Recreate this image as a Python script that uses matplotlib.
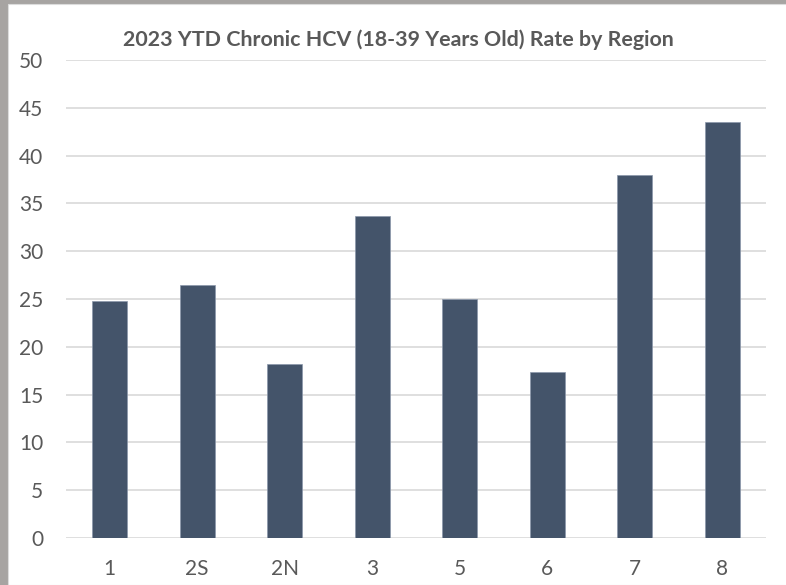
import matplotlib
matplotlib.use("Agg")
import matplotlib.pyplot as plt
from matplotlib.patches import Rectangle

regions = ["1", "2S", "2N", "3", "5", "6", "7", "8"]
rates = [24.75, 26.5, 18.25, 33.7, 25.05, 17.4, 37.95, 43.55]
y_ticks = [0, 5, 10, 15, 20, 25, 30, 35, 40, 45, 50]
title = "2023 YTD Chronic HCV (18-39 Years Old) Rate by Region"

plt.rcParams["font.family"] = ["Lato", "DejaVu Sans"]

fig = plt.figure(figsize=(7.86, 5.85), dpi=100)
fig.patch.set_facecolor("#a7a4a2")
# white chart area inside the grey frame
fig.patches.append(Rectangle((8 / 786, 0), 1, 1 - 4 / 585, transform=fig.transFigure,
                             facecolor="white", edgecolor="#dcdcdc", linewidth=0.8, zorder=-5))

ax = fig.add_axes([66 / 786, 47 / 585, 700 / 786, 478 / 585])
ax.set_facecolor("none")
x = list(range(len(regions)))
ax.bar(x, rates, width=0.4, color="#44546a", edgecolor="#8b97aa", linewidth=0.5, zorder=3)

ax.set_xlim(-0.5, len(regions) - 0.5)
ax.set_ylim(0, 50)
ax.set_yticks(y_ticks)
ax.set_xticks(x)
ax.set_xticklabels(regions)
ax.grid(axis="y", color="#d9d9d9", linewidth=1.2, zorder=0)
for s in ax.spines.values():
    s.set_visible(False)
ax.tick_params(length=0, labelsize=15, labelcolor="#595959")
ax.tick_params(axis="y", pad=16.5)
ax.tick_params(axis="x", pad=15)

fig.text(398 / 786, 1 - 40 / 585, title, ha="center", va="center",
         fontsize=15.4, fontweight="bold", color="#595959")

fig.savefig("out.png", dpi=100, facecolor=fig.get_facecolor())
